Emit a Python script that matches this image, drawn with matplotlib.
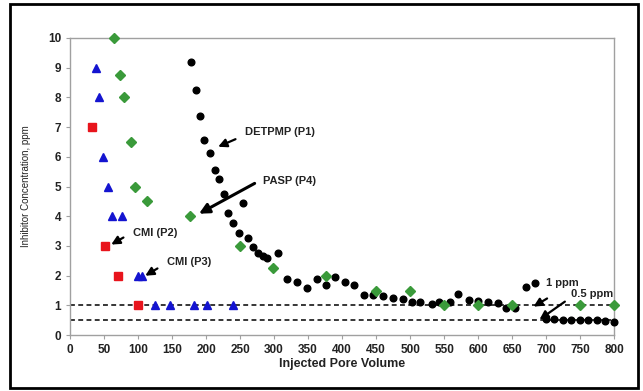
import matplotlib
matplotlib.use("Agg")
import matplotlib.pyplot as plt
from matplotlib.patches import Rectangle

# DETPMP (P1)
p1_x = [178, 185, 191, 197, 206, 213, 219, 226, 232, 239, 248, 254, 261, 269, 276, 283, 289, 306,
        319, 334, 349, 363, 376, 390, 404, 417, 432, 445, 460, 475, 489, 503, 515, 532, 543, 558,
        571, 586, 600, 615, 629, 641, 655, 671, 684,
        700, 712, 725, 737, 750, 762, 775, 787, 800]
p1_y = [9.2, 8.25, 7.37, 6.57, 6.13, 5.56, 5.25, 4.75, 4.1, 3.77, 3.44, 4.44, 3.27, 2.98, 2.76, 2.66, 2.59, 2.76,
        1.89, 1.78, 1.6, 1.88, 1.68, 1.96, 1.78, 1.68, 1.36, 1.35, 1.33, 1.26, 1.2, 1.13, 1.1, 1.04, 1.1, 1.13,
        1.38, 1.18, 1.14, 1.11, 1.08, 0.91, 0.91, 1.62, 1.75,
        0.55, 0.53, 0.52, 0.52, 0.5, 0.5, 0.5, 0.48, 0.44]
# CMI (P2)
p2_x = [32, 51, 70, 100]
p2_y = [7, 3, 2, 1]
# CMI (P3)
p3_x = [38, 43, 49, 56, 62, 76, 100, 106, 125, 147, 182, 202, 239]
p3_y = [9, 8, 6, 5, 4, 4, 2, 2, 1, 1, 1, 1, 1]
# PASP (P4)
p4_x = [64, 74, 80, 89, 96, 113, 176, 250, 298, 377, 450, 500, 550, 600, 650, 750, 800]
p4_y = [10, 8.75, 8, 6.5, 5, 4.5, 4, 3, 2.25, 2, 1.5, 1.5, 1, 1, 1, 1, 1]

x_ticks = list(range(0, 801, 50))
y_ticks = list(range(0, 11))

fig = plt.figure(figsize=(6.43, 3.91), dpi=100)
fig.patches.append(Rectangle((0.015, 0.008), 0.977, 0.982, transform=fig.transFigure,
                             fill=False, edgecolor='black', linewidth=2.0))
ax = fig.add_axes([0.109, 0.143, 0.846, 0.76])

ax.axhline(1, color='black', linestyle=(0, (3.2, 2.2)), linewidth=1.1, zorder=1)
ax.axhline(0.5, color='black', linestyle=(0, (3.2, 2.2)), linewidth=1.1, zorder=1)

ax.plot(p1_x, p1_y, 'o', color='black', markersize=4.8, linestyle='none', zorder=3, clip_on=False)
ax.plot(p4_x, p4_y, 'D', color='#3a9a3a', markersize=5.4, linestyle='none', zorder=4, clip_on=False)
ax.plot(p3_x, p3_y, '^', color='#1414d0', markersize=5.8, linestyle='none', zorder=4, clip_on=False)
ax.plot(p2_x, p2_y, 's', color='#e8141c', markersize=5.3, linestyle='none', zorder=4, clip_on=False)

ax.set_xlim(0, 800)
ax.set_ylim(0, 10)
ax.set_xticks(x_ticks)
ax.set_yticks(y_ticks)
for s in ax.spines.values():
    s.set_color('#a0a0a0')
    s.set_linewidth(1.0)
ax.tick_params(axis='both', colors='#a0a0a0', length=3, labelcolor='#222222', labelsize=8.5)
for lab in ax.get_xticklabels() + ax.get_yticklabels():
    lab.set_fontweight('bold')
    lab.set_family('Liberation Sans')

ax.set_xlabel('Injected Pore Volume', fontsize=9, fontweight='bold', family='Liberation Sans',
              color='#222222', labelpad=1)
ax.set_ylabel('Inhibitor Concentration, ppm', fontsize=7, family='Liberation Sans',
              color='#222222', labelpad=12)

tkw = dict(fontsize=8, fontweight='bold', family='Liberation Sans', color='#222222', va='center', ha='left')
akw = dict(arrowstyle='-|>,head_length=0.5,head_width=0.25', color='black', lw=1.6)

ax.annotate('', xy=(214, 6.3), xytext=(247, 6.63), arrowprops=akw)
ax.text(257, 6.83, 'DETPMP (P1)', **tkw)
ax.annotate('', xy=(186, 4.04), xytext=(275, 5.15),
            arrowprops=dict(arrowstyle='-|>,head_length=0.6,head_width=0.3', color='black', lw=2.2))
ax.text(283, 5.2, 'PASP (P4)', **tkw)
ax.annotate('', xy=(57, 3.0), xytext=(82, 3.33), arrowprops=akw)
ax.text(92, 3.43, 'CMI (P2)', **tkw)
ax.annotate('', xy=(107, 1.95), xytext=(132, 2.29), arrowprops=akw)
ax.text(142, 2.46, 'CMI (P3)', **tkw)
ax.annotate('', xy=(678, 0.91), xytext=(705, 1.28), arrowprops=akw)
ax.text(700, 1.75, '1 ppm', **tkw)
ax.annotate('', xy=(687, 0.47), xytext=(731, 1.18), arrowprops=akw)
ax.text(737, 1.37, '0.5 ppm', **tkw)

fig.savefig('out.png', dpi=100)
